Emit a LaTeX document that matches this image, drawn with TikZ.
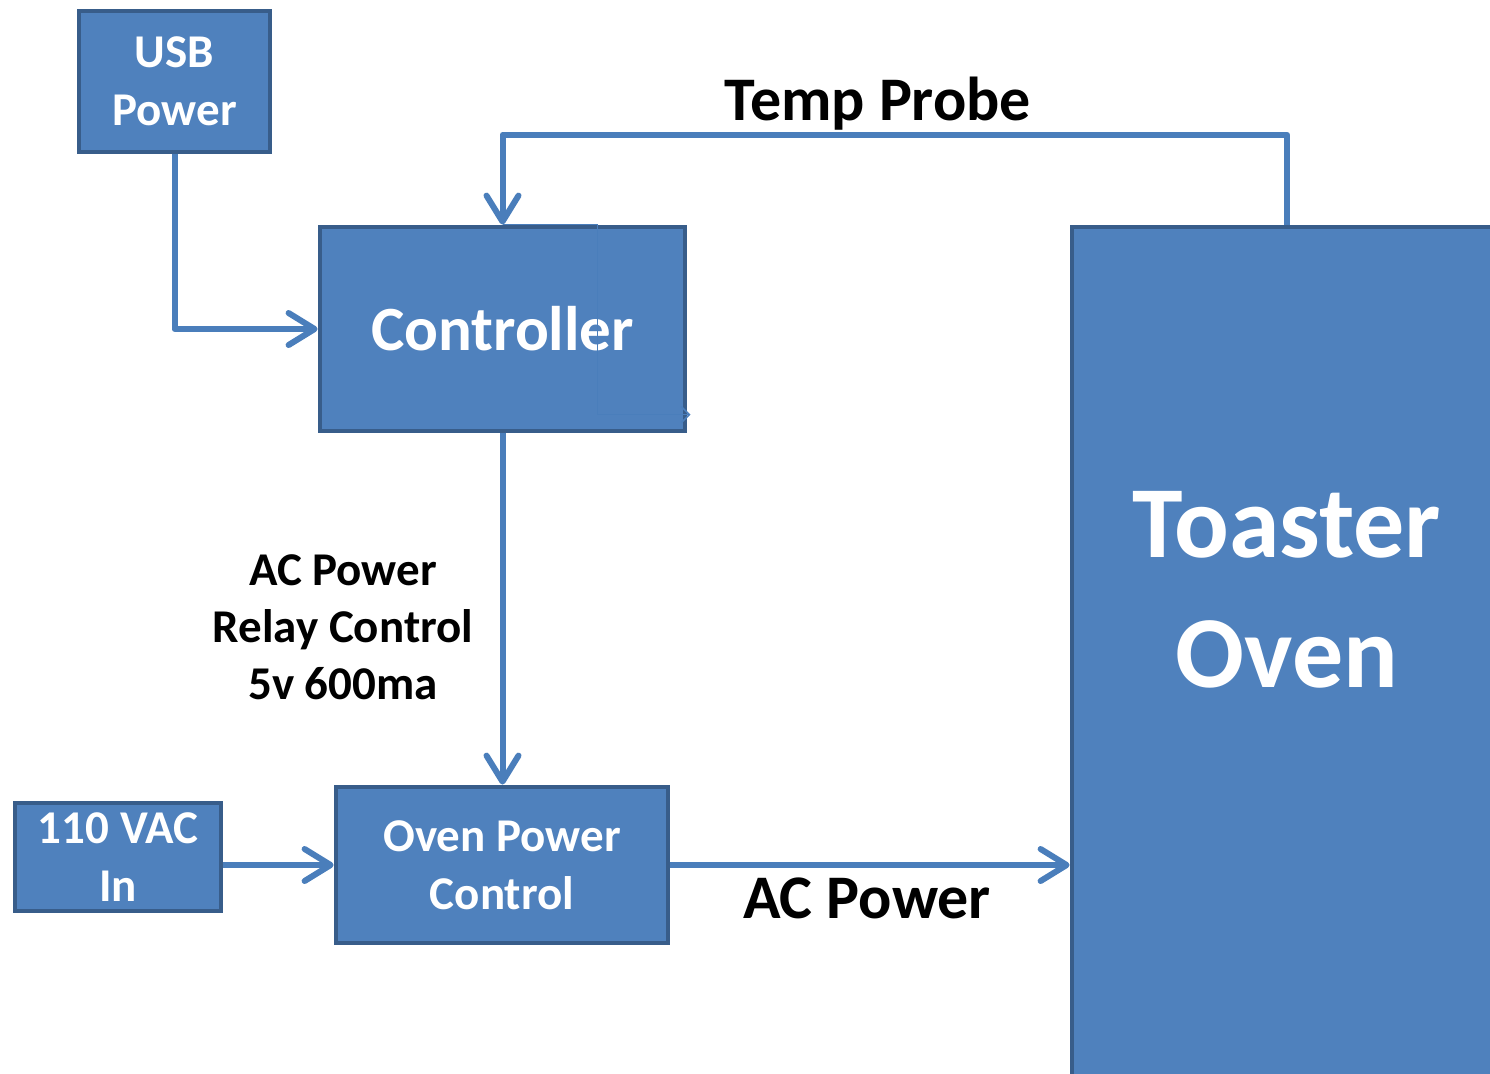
\documentclass[tikz,border=0pt]{standalone}
\usepackage{fontspec}
\setmainfont{Carlito}
\usetikzlibrary{arrows.meta}
\definecolor{boxfill}{HTML}{4F81BD}
\definecolor{boxline}{HTML}{385D8A}
\definecolor{wirecol}{HTML}{4A7EBB}
\begin{document}
\begin{tikzpicture}[x=0.5pt,y=-0.5pt,
  blk/.style={draw=boxline, fill=boxfill, line width=2.4pt, text=white,
    font=\bfseries\fontsize{23.5}{29}\selectfont, align=center, inner sep=0pt},
  wire/.style={draw=wirecol, line width=3pt, line join=round,
    -{Straight Barb[length=13pt,width=16pt,round]}},
  thinwire/.style={draw=wirecol, line width=0.8pt,
    -{Straight Barb[length=4pt,width=8pt]}},
  lbl/.style={text=black, font=\bfseries\fontsize{31}{37}\selectfont, inner sep=0pt}]
\clip (0,0) rectangle (1490,1073);
\node[blk, minimum width=95.5pt, minimum height=70.5pt] (usb) at (174.5,81.5) {USB\\Power};
\node[blk, minimum width=182.5pt, minimum height=102pt,
  font=\bfseries\fontsize{31.5}{37}\selectfont] (ctrl) at (502.5,329) {Controller};
\node[blk, minimum width=103pt, minimum height=54pt] (vac) at (118,857) {110 VAC\\In};
\node[blk, minimum width=166pt, minimum height=78pt] (opc) at (502,865) {Oven Power\\Control};
\node[blk, minimum width=215pt, minimum height=429pt] (oven) at (1287,656) {};
\node[text=white, font=\bfseries\fontsize{51}{65}\selectfont, align=center] (ovenlbl) at (1287,590) {Toaster\\Oven};
\node[lbl, anchor=base] (tp) at (878,120) {Temp Probe};
\node[lbl, anchor=base] (acp) at (867,918) {AC Power};
\node[lbl, align=center, font=\bfseries\fontsize{23.5}{28.5}\selectfont] (relay) at (343,627)
  {AC Power\\Relay Control\\5v 600ma};
\draw[wire] (usb.south) |- (ctrl.west);
\draw[wire] (oven.north) -- ++(0,-90) -| (ctrl.north);
\draw[wire] (ctrl.south) -- (ctrl.south |- opc.north);
\draw[wire] (vac.east |- opc.west) -- (opc.west);
\draw[wire] (opc.east) -- (opc.east -| oven.west);
\draw[thinwire] (ctrl.north) -| ++(95,190) -- ++(93,0);
\end{tikzpicture}
\end{document}
